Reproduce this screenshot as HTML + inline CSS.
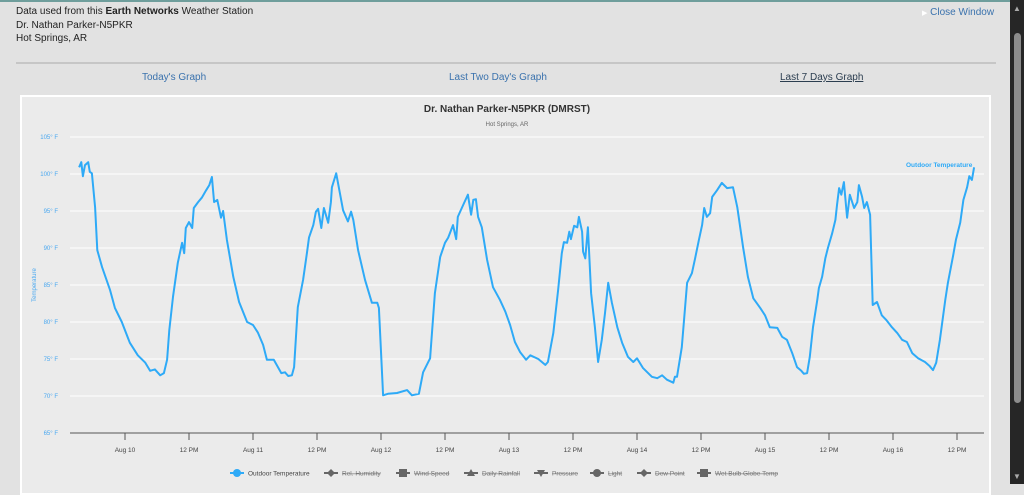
<!DOCTYPE html>
<html><head><meta charset="utf-8">
<style>
html,body{margin:0;padding:0;width:1024px;height:484px;overflow:hidden;background:#e2e2e2;font-family:"Liberation Sans",Arial,sans-serif;}
.abs{position:absolute;}
#hdr{left:16px;top:5px;font-size:10px;line-height:13.5px;color:#222;}
#close{left:922px;top:7px;font-size:10px;color:#3a72ad;}
.tab{top:72px;font-size:10px;color:#3a72ad;}
</style></head><body>
<div class="abs" style="left:0;top:0;width:1024px;height:2px;background:#6f9e9c"></div>
<div id="hdr" class="abs">Data used from this <b>Earth Networks</b> Weather Station<br>Dr. Nathan Parker-N5PKR<br>Hot Springs, AR</div>
<div id="close" class="abs"><span style="color:#fff;font-size:7px">&#9654;</span> Close Window</div>
<div class="abs" style="left:16px;top:62px;width:980px;height:2px;background:#c6c6c6"></div>
<div class="abs tab" style="left:142px">Today's Graph</div>
<div class="abs tab" style="left:449px">Last Two Day's Graph</div>
<div class="abs tab" style="left:780px;color:#2c3e50;text-decoration:underline">Last 7 Days Graph</div>
<div class="abs" style="left:1010px;top:0;width:14px;height:484px;background:#262626">
<div class="abs" style="left:4px;top:33px;width:7px;height:370px;background:#8c8c8c;border-radius:4px"></div>
<div class="abs" style="left:3px;top:4px;color:#aaa;font-size:8px">&#9650;</div>
<div class="abs" style="left:3px;top:472px;color:#aaa;font-size:8px">&#9660;</div>
</div>
<div class="abs" style="left:20px;top:95px;width:971px;height:400px;background:#ebebeb;border:2px solid #fff;box-sizing:border-box"></div>
<svg class="abs" style="left:0;top:0" width="1010" height="484" id="chart">
<text x="507" y="112" text-anchor="middle" font-size="10" font-weight="bold" fill="#333">Dr. Nathan Parker-N5PKR (DMRST)</text>
<text x="507" y="126" text-anchor="middle" font-size="6" fill="#666">Hot Springs, AR</text>
<text transform="translate(36,285) rotate(-90)" text-anchor="middle" font-size="6" fill="#4aa8f0">Temperature</text>
<g id="grid"></g><g id="xaxis"></g>
<path id="line" fill="none" stroke="#2eaaf7" stroke-width="2" stroke-linejoin="round"/>
<text x="906" y="167" font-size="6.5" font-weight="bold" fill="#2eaaf7">Outdoor Temperature</text>
<g id="legend"></g>
</svg>
<script>
const hours=[15.4,15.8,16.1,16.5,17.1,17.4,17.8,18.4,18.8,19.7,21.2,22.1,23.4,24.9,26.4,27.8,28.7,29.6,30.6,31.3,31.9,32.3,33.0,33.9,34.7,35.1,35.4,36.0,36.6,36.9,37.7,38.4,39.2,39.8,40.3,40.7,41.3,42.0,42.4,43.1,44.3,45.4,46.9,48.0,48.9,49.9,50.6,51.9,53.3,54.0,54.6,55.3,55.7,56.4,57.4,58.1,58.5,59.3,59.8,60.2,60.8,61.3,62.1,62.6,62.8,63.6,64.3,64.9,65.8,66.4,66.8,67.7,69.0,70.3,71.3,71.6,72.4,73.3,75.0,76.9,77.8,79.1,79.9,81.2,82.1,83.1,84.0,84.6,85.5,86.1,86.4,87.4,88.3,88.9,89.3,89.8,90.2,90.9,91.9,93.0,94.3,95.3,96.2,97.1,98.1,99.2,100.0,101.5,102.8,103.3,104.3,105.2,105.9,106.3,106.9,107.3,107.6,108.2,108.8,109.1,109.7,109.9,110.3,110.8,111.4,112.1,112.7,113.4,114.0,114.6,115.3,116.3,117.2,118.3,119.3,120.0,121.1,122.8,123.8,124.7,125.6,126.8,127.1,127.5,128.4,129.4,130.3,130.9,131.6,132.2,132.6,133.1,133.7,134.1,135.0,135.9,136.9,138.0,138.8,139.9,140.8,141.8,143.1,144.0,144.9,146.3,147.2,148.1,149.1,150.0,150.8,151.3,151.9,152.4,153.0,153.8,154.1,154.7,155.3,155.8,156.6,157.2,157.5,157.9,158.3,158.8,159.4,159.9,160.7,161.3,161.6,162.2,162.6,163.1,163.7,164.2,165.0,165.9,166.7,167.8,168.8,169.7,170.6,171.6,172.7,174.0,174.8,175.5,176.1,176.8,177.8,178.3,179.3,179.8,180.6,181.2,181.9,182.3,182.8,183.2];
const temps=[100.9,101.6,99.7,101.2,101.6,100.3,100.1,95.5,89.7,87.4,84.3,81.9,80.0,77.2,75.5,74.5,73.4,73.6,72.8,73.1,74.9,78.9,83.4,88.0,90.7,89.3,92.7,93.5,92.7,95.4,96.2,96.8,97.8,98.5,99.6,96.2,96.5,94.1,95.0,91.1,86.1,82.7,80.0,79.6,78.6,76.9,74.9,74.9,73.1,73.2,72.7,72.8,73.9,82.0,85.7,89.3,91.4,93.1,94.9,95.3,92.7,95.4,93.4,96.2,98.2,100.1,97.4,95.1,93.6,94.9,93.8,89.7,85.7,82.6,82.6,81.9,70.1,70.3,70.4,70.8,70.1,70.3,73.2,75.1,83.9,88.8,90.7,91.4,93.1,91.2,94.2,95.8,97.2,94.5,96.5,96.6,94.2,92.8,88.4,84.7,83.0,81.4,79.6,77.3,75.9,74.9,75.5,75.0,74.2,74.6,78.5,84.3,89.3,90.8,90.7,92.2,91.2,93.0,92.8,94.2,92.2,89.5,88.6,92.8,83.9,79.3,74.6,77.6,81.2,85.3,82.6,79.3,77.2,75.3,74.6,75.1,73.8,72.6,72.4,72.8,72.2,71.8,72.6,72.6,76.6,85.3,86.6,88.6,91.1,93.1,95.4,94.2,94.7,96.9,97.8,98.8,98.1,98.2,95.5,90.1,86.1,83.2,81.9,80.9,79.3,79.2,78.0,77.6,75.8,73.9,73.4,73.0,73.1,75.3,79.3,83.0,84.6,86.1,88.6,90.0,92.0,93.8,95.8,98.1,97.2,98.9,94.1,97.2,95.4,96.2,98.5,96.9,95.4,96.2,94.5,82.3,82.7,80.9,80.3,79.3,78.5,77.6,77.3,75.8,75.1,74.6,74.1,73.5,74.5,77.6,83.0,85.3,89.1,91.1,93.4,96.5,98.2,99.7,99.2,100.9,102.4];
const yTicks=[65,70,75,80,85,90,95,100,105];
const xTickHours=[24,36,48,60,72,84,96,108,120,132,144,156,168,180];
const xTickLabels=["Aug 10","12 PM","Aug 11","12 PM","Aug 12","12 PM","Aug 13","12 PM","Aug 14","12 PM","Aug 15","12 PM","Aug 16","12 PM"];
const legendNames=["Outdoor Temperature","Rel. Humidity","Wind Speed","Daily Rainfall","Pressure","Light","Dew Point","Wet Bulb Globe Temp"];
const NS="http://www.w3.org/2000/svg";
const X=h=>-3+h*(128/24);
const Y=v=>433-(v-65)*7.4;
function mk(t,a,p){const e=document.createElementNS(NS,t);for(const k in a)e.setAttribute(k,a[k]);p.appendChild(e);return e;}
const grid=document.getElementById('grid');
yTicks.forEach(v=>{
  if(v>65){const l=mk('line',{x1:70,x2:984,y1:Y(v),y2:Y(v),stroke:'#fff','stroke-width':1},grid);
  
  }
  const t=mk('text',{x:58,y:Y(v)+2,'text-anchor':'end','font-size':6,fill:'#4aa8f0'},grid);
  t.textContent=v+'° F';
  
  
});
const xa=document.getElementById('xaxis');
const ax=mk('line',{x1:70,x2:984,y1:433,y2:433,stroke:'#555','stroke-width':1},xa);


xTickHours.forEach((h,i)=>{
  mk('line',{x1:X(h),x2:X(h),y1:433,y2:440,stroke:'#555'},xa);
  const t=mk('text',{x:X(h),y:452,'text-anchor':'middle','font-size':6.5,fill:'#444'},xa);
  t.textContent=xTickLabels[i];
  
  
});
document.getElementById('line').setAttribute('d',hours.map((h,i)=>(i?'L':'M')+X(h).toFixed(1)+','+Y(temps[i]).toFixed(1)).join(''));
const lg=document.getElementById('legend');
const lx=[237,331,403,471,541,597,644,704];
legendNames.forEach((n,i)=>{
  const g=mk('g',{},lg);
  
  
  const c=i?'#666':'#2eaaf7';
  mk('line',{x1:lx[i]-7,x2:lx[i]+7,y1:473,y2:473,stroke:c,'stroke-width':2},g);
  if(i==0||i==5)mk('circle',{cx:lx[i],cy:473,r:4,fill:c},g);
  else if(i==1||i==6)mk('path',{d:`M${lx[i]-4},473L${lx[i]},469L${lx[i]+4},473L${lx[i]},477Z`,fill:c},g);
  else if(i==2||i==7)mk('rect',{x:lx[i]-4,y:469,width:8,height:8,fill:c},g);
  else if(i==3)mk('path',{d:`M${lx[i]-4},476L${lx[i]},469L${lx[i]+4},476Z`,fill:c},g);
  else mk('path',{d:`M${lx[i]-4},470L${lx[i]},477L${lx[i]+4},470Z`,fill:c},g);
  const t=mk('text',{x:lx[i]+11,y:475.5,'font-size':6.5,fill:i?'#777':'#444','text-decoration':i?'line-through':'none'},g);
  t.textContent=n;
});
</script>
</body></html>
